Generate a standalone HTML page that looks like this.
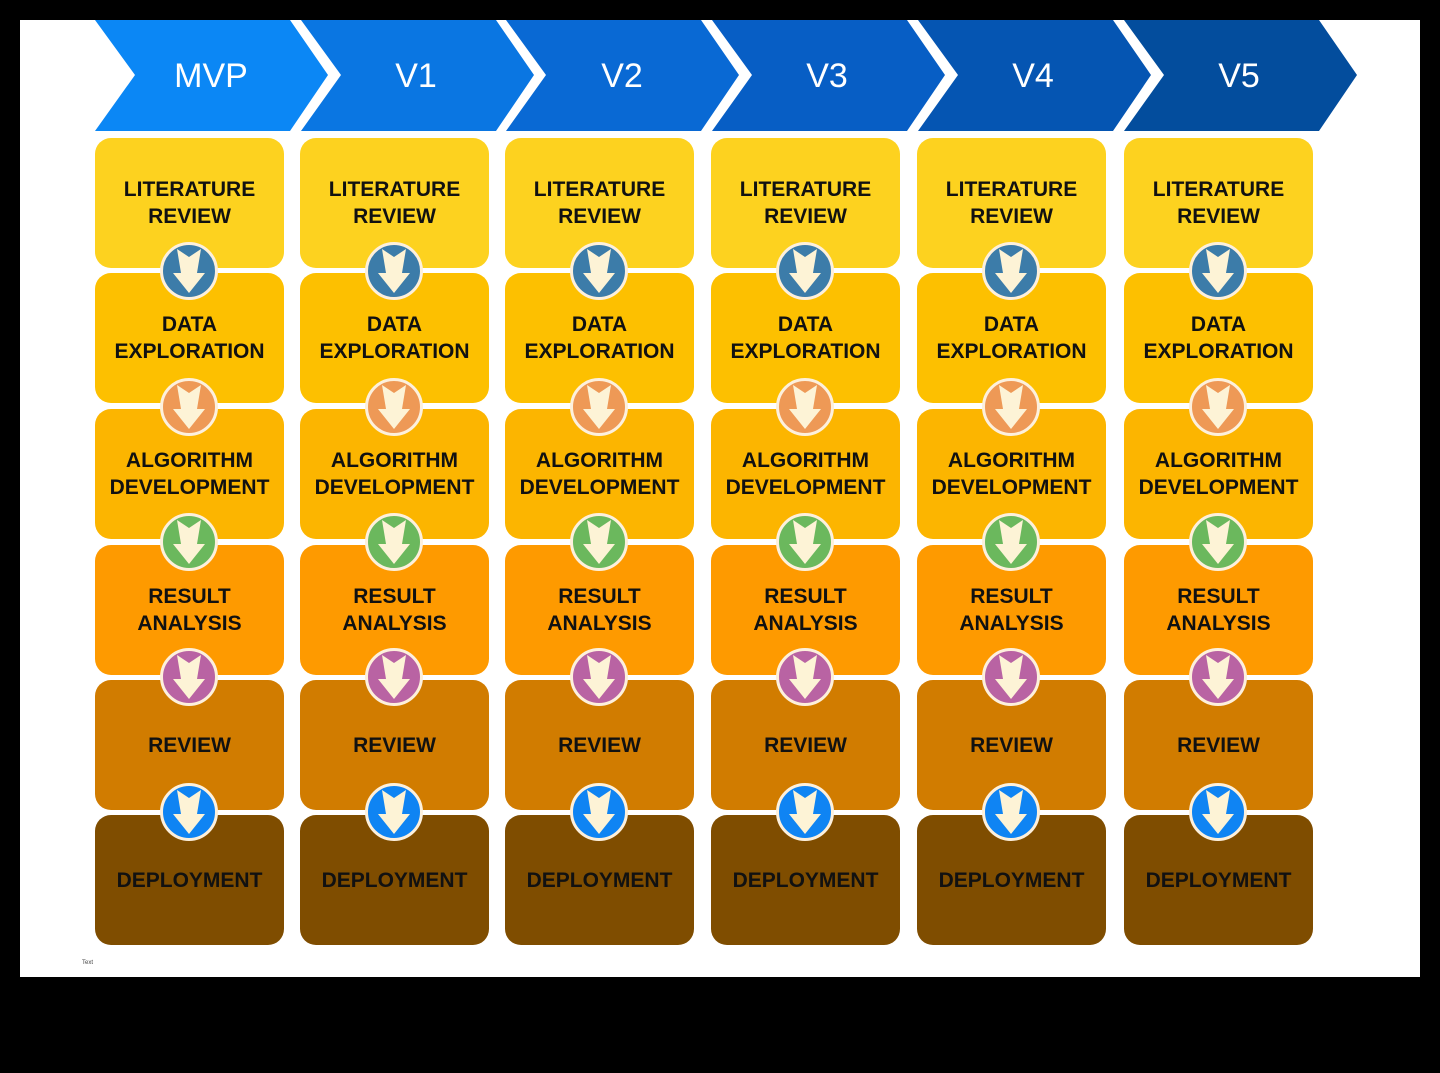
<!DOCTYPE html>
<html><head><meta charset="utf-8"><style>
body{margin:0;background:#000;width:1440px;height:1073px;position:relative;overflow:hidden;font-family:"Liberation Sans",sans-serif}
#w{position:absolute;left:20px;top:20px;width:1400px;height:957px;background:#fff}
.b{position:absolute;width:189px;height:130px;border-radius:16px;display:flex;align-items:center;justify-content:center;text-align:center;font-weight:bold;font-size:21px;line-height:27px;color:#111}
.c{position:absolute;width:52px;height:52px;border-radius:50%;border:3px solid #fdf0dc;box-sizing:content-box}
.c svg{position:absolute;left:0;top:0}
.t{position:absolute;left:82px;top:960px;font-size:6px;color:#444}
</style></head><body><div id="w"></div>
<svg width="1440" height="140" style="position:absolute;left:0;top:0">
<g font-family="Liberation Sans" font-size="34" fill="#fff" text-anchor="middle">
<polygon points="95,20 290,20 328,75 290,131 95,131 135,75" fill="#0b87f5"/><text x="211" y="87">MVP</text>
<polygon points="301,20 496,20 534,75 496,131 301,131 341,75" fill="#0a76e2"/><text x="416" y="87">V1</text>
<polygon points="506,20 701,20 739,75 701,131 506,131 546,75" fill="#0969d4"/><text x="622" y="87">V2</text>
<polygon points="712,20 907,20 945,75 907,131 712,131 752,75" fill="#075ec5"/><text x="827" y="87">V3</text>
<polygon points="918,20 1113,20 1151,75 1113,131 918,131 958,75" fill="#0555b2"/><text x="1033" y="87">V4</text>
<polygon points="1124,20 1319,20 1357,75 1319,131 1124,131 1164,75" fill="#034d9d"/><text x="1239" y="87">V5</text>
</g></svg>
<div id="g"></div>
<div class="t">Text</div>
<script>
var L=[95,300,505,711,917,1124];
var rows=[["LITERATURE<br>REVIEW","#fdd21f",138],["DATA<br>EXPLORATION","#fdc000",273],["ALGORITHM<br>DEVELOPMENT","#fcb500",409],["RESULT<br>ANALYSIS","#fe9a00",545],["REVIEW","#d17c00",680],["DEPLOYMENT","#7f4d00",815]];
var cc=["#3c7ca9","#ee9956","#6bb85d","#b963a3","#0f84f3"];
var h="";
L.forEach(function(x){
rows.forEach(function(r){h+='<div class="b" style="left:'+x+'px;top:'+r[2]+'px;background:'+r[1]+'">'+r[0]+'</div>';});
cc.forEach(function(c,i){var cy=[271,407,542,677,812][i];
h+='<div class="c" style="left:'+(x+94-29)+'px;top:'+(cy-29)+'px;background:'+c+'"><svg width="52" height="52"><polygon points="14,4 26,12 38,4 34,28 42,28 26,48 10,28 18,28" fill="#fdf3d6"/></svg></div>';});
});
document.getElementById("g").innerHTML=h;
</script>
</body></html>
